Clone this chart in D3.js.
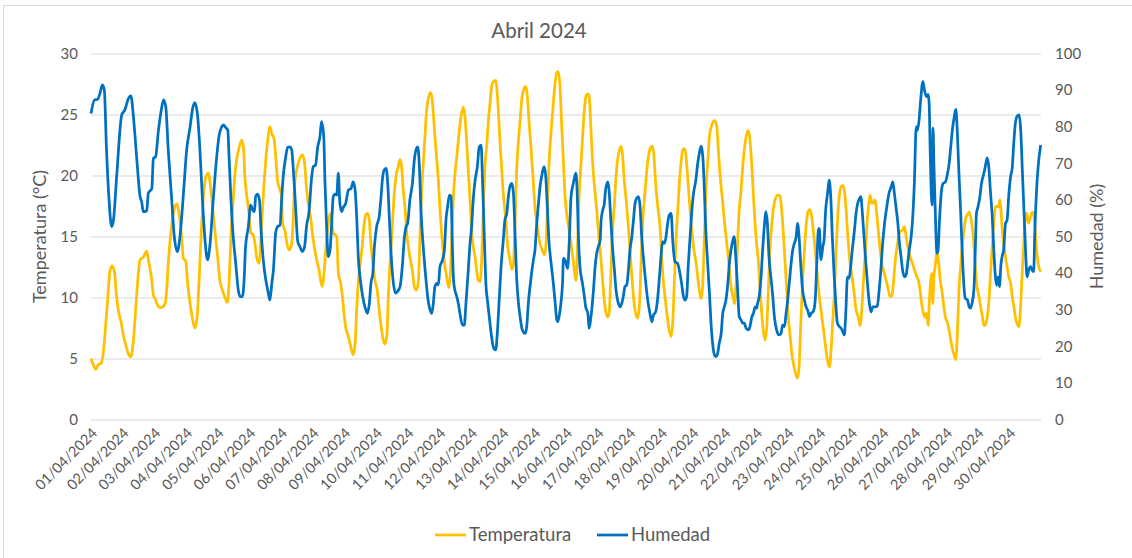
<!DOCTYPE html>
<html>
<head>
<meta charset="utf-8">
<script src="https://cdn.jsdelivr.net/npm/d3@7"></script>
<style>
  body { margin: 0; background: #fff; }
  svg { display: block; font-family: Lato, 'Open Sans', sans-serif; }
</style>
</head>
<body>
<svg id="chart" width="1132" height="558"></svg>
<script>
// [día desde 01/04 00:00, valor]
const temperatura = [
  [0.00,5.0],[0.07,4.5],[0.15,4.1],[0.23,4.5],[0.32,4.6],[0.39,5.5],[0.46,7.6],[0.53,10.0],[0.60,12.2],[0.67,12.6],
  [0.74,12.1],[0.81,10.0],[0.88,8.7],[0.95,8.0],[1.02,6.9],[1.09,6.2],[1.18,5.4],[1.26,5.15],[1.34,6.5],[1.41,9.0],
  [1.47,11.2],[1.55,13.1],[1.65,13.3],[1.76,13.8],[1.81,13.1],[1.92,11.4],[1.97,10.2],[2.04,9.8],[2.15,9.2],[2.23,9.2],
  [2.34,9.5],[2.39,10.6],[2.44,12.8],[2.53,15.5],[2.60,16.9],[2.71,17.7],[2.78,16.9],[2.86,15.0],[2.92,13.2],[2.99,13.0],
  [3.05,11.2],[3.13,9.5],[3.20,8.3],[3.28,7.5],[3.35,8.4],[3.41,11.2],[3.47,14.7],[3.55,18.3],[3.62,19.8],[3.71,20.2],
  [3.76,19.4],[3.83,17.7],[3.92,15.3],[4.00,13.3],[4.07,11.4],[4.15,10.6],[4.23,10.0],[4.31,9.6],[4.36,11.2],[4.42,15.0],
  [4.49,18.0],[4.55,20.2],[4.60,21.3],[4.67,22.2],[4.76,22.9],[4.82,22.1],[4.86,19.9],[4.92,18.3],[4.99,16.9],[5.05,15.3],
  [5.13,15.1],[5.18,14.4],[5.23,13.3],[5.31,12.8],[5.37,15.0],[5.44,18.3],[5.52,21.3],[5.58,22.9],[5.65,24.0],[5.71,23.4],
  [5.78,23.0],[5.84,21.3],[5.89,19.6],[5.97,18.8],[6.02,18.3],[6.05,16.1],[6.13,15.4],[6.19,14.4],[6.25,13.9],[6.32,14.2],
  [6.37,15.5],[6.42,18.8],[6.49,20.4],[6.58,21.3],[6.67,21.7],[6.74,21.1],[6.81,18.8],[6.88,17.4],[6.95,16.3],[6.99,15.3],
  [7.07,13.9],[7.15,12.8],[7.20,12.3],[7.25,11.4],[7.31,10.9],[7.36,12.0],[7.43,14.5],[7.49,16.0],[7.55,16.9],[7.60,16.3],
  [7.65,15.3],[7.76,15.0],[7.81,12.0],[7.88,11.2],[7.94,10.1],[8.00,8.4],[8.04,7.6],[8.13,6.8],[8.21,5.9],[8.28,5.3],
  [8.34,6.2],[8.39,9.0],[8.44,11.2],[8.52,13.1],[8.57,14.4],[8.63,16.1],[8.68,16.8],[8.74,16.9],[8.79,16.3],[8.84,14.4],
  [8.90,12.8],[8.97,11.4],[9.04,10.6],[9.11,8.7],[9.18,7.3],[9.23,6.5],[9.28,6.2],[9.34,6.8],[9.39,10.1],[9.44,12.8],
  [9.50,15.0],[9.57,18.3],[9.63,19.9],[9.71,20.8],[9.76,21.3],[9.81,20.7],[9.86,18.8],[9.92,17.2],[9.97,15.3],[10.02,14.2],
  [10.07,13.3],[10.15,12.2],[10.21,10.9],[10.28,10.6],[10.34,11.4],[10.39,15.0],[10.44,18.5],[10.50,21.3],[10.55,23.4],[10.60,25.4],
  [10.65,26.3],[10.71,26.8],[10.76,26.5],[10.81,25.1],[10.86,23.2],[10.92,21.3],[10.97,19.6],[11.02,17.2],[11.07,15.3],[11.13,13.6],
  [11.18,12.5],[11.23,11.7],[11.30,10.8],[11.35,12.0],[11.40,15.5],[11.45,18.6],[11.50,20.3],[11.55,21.5],[11.62,23.4],[11.69,24.9],
  [11.76,25.6],[11.81,24.8],[11.86,22.9],[11.92,20.2],[11.97,18.0],[12.02,15.5],[12.07,14.2],[12.13,13.3],[12.18,12.2],[12.23,11.4],
  [12.29,11.3],[12.34,13.3],[12.39,17.4],[12.44,20.7],[12.50,22.6],[12.55,24.5],[12.60,25.9],[12.65,27.3],[12.71,27.7],[12.78,27.8],
  [12.83,26.7],[12.89,24.0],[12.95,21.3],[13.02,18.5],[13.10,16.3],[13.16,14.2],[13.23,13.1],[13.29,12.3],[13.34,12.8],[13.39,16.1],
  [13.44,20.4],[13.50,22.9],[13.55,24.5],[13.60,26.2],[13.67,27.1],[13.73,27.3],[13.78,26.5],[13.83,24.5],[13.90,22.1],[13.97,19.4],
  [14.02,17.4],[14.11,15.5],[14.18,14.4],[14.25,13.9],[14.32,13.5],[14.37,14.4],[14.42,18.0],[14.47,21.3],[14.55,24.3],[14.60,25.9],
  [14.65,27.5],[14.72,28.5],[14.76,28.5],[14.81,27.3],[14.86,24.3],[14.92,21.0],[14.97,18.3],[15.02,16.9],[15.10,15.5],[15.16,14.4],
  [15.23,13.0],[15.29,11.7],[15.32,11.4],[15.36,13.9],[15.41,18.0],[15.48,21.3],[15.53,23.4],[15.58,25.4],[15.63,26.5],[15.69,26.7],
  [15.73,26.5],[15.78,24.3],[15.83,21.5],[15.90,19.1],[15.97,17.2],[16.02,15.5],[16.08,13.9],[16.13,12.3],[16.18,10.6],[16.23,9.3],
  [16.31,8.4],[16.36,8.7],[16.41,11.4],[16.46,15.0],[16.53,17.7],[16.58,19.9],[16.63,21.3],[16.69,22.1],[16.74,22.4],[16.79,21.5],
  [16.84,19.6],[16.90,18.0],[16.97,15.8],[17.02,13.9],[17.08,11.7],[17.13,10.1],[17.18,9.0],[17.26,8.3],[17.32,9.5],[17.37,12.8],
  [17.42,16.1],[17.50,18.8],[17.55,20.4],[17.60,21.5],[17.66,22.2],[17.73,22.4],[17.78,21.5],[17.83,19.4],[17.90,17.4],[17.97,15.8],
  [18.02,13.3],[18.08,11.2],[18.15,9.5],[18.21,8.2],[18.27,7.2],[18.32,6.8],[18.37,7.9],[18.42,11.2],[18.48,15.0],[18.53,17.2],
  [18.58,19.4],[18.63,21.0],[18.69,22.1],[18.74,22.2],[18.79,21.6],[18.84,19.9],[18.90,17.8],[18.95,16.1],[19.04,13.9],[19.11,12.8],
  [19.16,11.7],[19.21,10.6],[19.27,9.9],[19.32,11.2],[19.37,15.0],[19.42,18.8],[19.48,21.3],[19.53,23.2],[19.60,24.1],[19.69,24.5],
  [19.76,24.1],[19.81,22.1],[19.87,19.9],[19.94,18.0],[20.02,15.8],[20.10,13.9],[20.16,12.3],[20.21,10.9],[20.27,10.1],[20.32,9.5],
  [20.36,10.6],[20.41,13.9],[20.47,17.2],[20.53,18.8],[20.58,20.7],[20.63,22.1],[20.69,23.2],[20.76,23.7],[20.81,22.9],[20.87,20.7],
  [20.92,18.3],[20.97,16.1],[21.02,14.4],[21.08,12.8],[21.13,10.6],[21.18,8.7],[21.23,7.3],[21.29,6.5],[21.34,7.6],[21.39,10.6],
  [21.44,13.9],[21.52,16.6],[21.60,18.0],[21.69,18.4],[21.76,18.3],[21.81,17.2],[21.87,15.0],[21.92,12.8],[21.97,10.6],[22.02,8.4],
  [22.08,6.8],[22.13,5.4],[22.18,4.6],[22.25,3.8],[22.31,3.4],[22.36,4.3],[22.41,7.6],[22.47,11.2],[22.53,13.9],[22.58,15.8],
  [22.63,16.9],[22.69,17.2],[22.74,16.9],[22.81,15.5],[22.87,13.9],[22.94,11.7],[23.00,10.1],[23.08,8.4],[23.15,7.0],[23.21,5.7],
  [23.27,4.7],[23.32,4.3],[23.37,5.7],[23.42,7.9],[23.48,10.6],[23.53,13.9],[23.58,16.6],[23.63,18.3],[23.69,19.1],[23.74,19.2],
  [23.79,18.8],[23.84,17.4],[23.90,15.0],[23.95,13.3],[24.00,12.3],[24.06,11.2],[24.11,10.1],[24.16,9.0],[24.23,8.4],[24.29,7.7],
  [24.34,9.0],[24.39,11.2],[24.44,13.3],[24.50,15.8],[24.55,17.4],[24.60,18.4],[24.66,17.7],[24.71,17.8],[24.76,18.0],[24.81,16.9],
  [24.87,15.3],[24.92,13.9],[24.97,12.8],[25.02,12.3],[25.08,11.7],[25.13,11.2],[25.18,10.6],[25.23,10.1],[25.29,10.1],[25.34,11.2],
  [25.39,12.8],[25.44,13.9],[25.50,15.0],[25.55,15.4],[25.62,15.5],[25.69,15.8],[25.74,15.0],[25.79,14.2],[25.87,13.3],[25.94,12.8],
  [26.00,12.3],[26.08,11.7],[26.13,11.4],[26.18,10.6],[26.23,9.5],[26.29,8.7],[26.34,8.4],[26.38,8.7],[26.44,7.7],[26.47,9.5],
  [26.51,11.2],[26.55,12.0],[26.58,9.5],[26.62,11.7],[26.67,12.8],[26.72,13.8],[26.77,12.8],[26.82,11.4],[26.88,10.4],[26.93,9.3],
  [26.98,8.4],[27.05,7.9],[27.10,7.3],[27.15,6.5],[27.20,5.8],[27.26,5.3],[27.31,4.9],[27.36,7.1],[27.41,10.6],[27.47,12.8],
  [27.52,14.4],[27.57,15.5],[27.62,16.5],[27.68,16.8],[27.73,17.0],[27.78,16.6],[27.84,15.5],[27.89,13.9],[27.93,12.3],[27.98,10.9],
  [28.04,10.1],[28.09,9.3],[28.15,8.4],[28.20,7.7],[28.25,7.8],[28.30,8.4],[28.35,9.5],[28.40,11.7],[28.46,14.2],[28.51,16.1],
  [28.56,17.4],[28.61,17.5],[28.67,17.4],[28.70,18.0],[28.73,17.4],[28.77,15.8],[28.82,14.4],[28.88,13.3],[28.93,12.5],[28.98,11.7],
  [29.04,11.2],[29.09,10.1],[29.14,9.3],[29.19,8.4],[29.25,7.8],[29.30,7.6],[29.35,9.0],[29.40,11.7],[29.46,14.7],[29.51,16.9],
  [29.56,16.9],[29.59,16.1],[29.64,16.3],[29.70,16.9],[29.75,17.0],[29.80,16.1],[29.86,13.9],[29.91,12.8],[29.99,12.1]
]

const humedad = [
  [0.00,83.6],[0.11,87.3],[0.21,87.5],[0.28,89.0],[0.36,91.4],[0.42,90.0],[0.49,73.6],[0.57,60.0],[0.65,52.7],[0.71,54.5],
  [0.81,66.4],[0.97,83.2],[1.07,84.6],[1.18,87.7],[1.26,88.4],[1.34,82.7],[1.44,71.8],[1.55,60.9],[1.60,59.5],[1.65,56.8],
  [1.76,57.0],[1.81,61.8],[1.92,63.1],[1.97,71.3],[2.04,71.8],[2.13,79.0],[2.21,84.0],[2.29,87.3],[2.36,85.5],[2.44,73.6],
  [2.55,60.0],[2.63,50.0],[2.73,45.9],[2.81,50.0],[2.92,61.8],[3.02,73.6],[3.13,80.0],[3.21,85.0],[3.28,86.6],[3.37,82.7],
  [3.44,73.6],[3.52,60.0],[3.60,49.0],[3.68,43.6],[3.76,48.0],[3.86,60.0],[3.97,71.8],[4.04,77.3],[4.13,80.0],[4.18,80.5],
  [4.25,79.8],[4.32,79.0],[4.36,71.8],[4.42,60.0],[4.49,50.0],[4.57,42.7],[4.65,35.4],[4.71,33.6],[4.78,33.6],[4.84,39.0],
  [4.88,47.2],[4.97,52.7],[5.04,58.6],[5.11,57.2],[5.16,56.8],[5.20,60.9],[5.26,61.6],[5.32,60.0],[5.37,51.8],[5.44,43.6],
  [5.52,38.1],[5.58,35.4],[5.65,32.6],[5.71,37.2],[5.76,40.8],[5.83,50.9],[5.89,52.7],[5.97,53.1],[6.02,60.0],[6.07,66.4],
  [6.15,71.8],[6.21,74.4],[6.28,74.5],[6.34,73.6],[6.39,68.2],[6.46,58.1],[6.53,48.6],[6.60,47.2],[6.67,45.9],[6.74,47.0],
  [6.81,53.1],[6.88,56.3],[6.97,66.4],[7.02,69.1],[7.09,69.5],[7.16,74.5],[7.23,77.3],[7.28,81.4],[7.35,77.3],[7.39,64.5],
  [7.44,52.7],[7.49,44.5],[7.55,46.3],[7.60,53.6],[7.65,60.9],[7.71,61.6],[7.76,61.3],[7.81,67.3],[7.86,59.0],[7.92,56.8],
  [7.97,58.0],[8.04,59.0],[8.13,62.7],[8.21,63.1],[8.28,64.9],[8.34,62.7],[8.39,55.4],[8.44,44.5],[8.52,37.2],[8.58,33.6],
  [8.65,30.8],[8.73,29.0],[8.79,31.7],[8.84,37.2],[8.90,39.9],[8.95,47.2],[9.02,52.7],[9.10,55.4],[9.16,60.9],[9.20,65.4],
  [9.26,68.2],[9.32,68.6],[9.37,64.5],[9.42,55.4],[9.47,46.3],[9.55,37.2],[9.62,34.5],[9.68,35.0],[9.76,36.3],[9.83,41.8],
  [9.90,50.0],[9.95,52.7],[10.00,53.6],[10.07,60.0],[10.15,64.5],[10.21,70.9],[10.28,74.1],[10.32,74.5],[10.37,69.1],[10.42,57.2],
  [10.50,46.3],[10.57,39.0],[10.63,33.6],[10.71,29.9],[10.76,29.0],[10.81,31.7],[10.86,36.3],[10.92,37.2],[10.97,36.8],[11.02,41.8],
  [11.10,43.6],[11.16,46.3],[11.21,54.5],[11.26,58.1],[11.32,61.3],[11.37,61.0],[11.41,48.0],[11.44,39.5],[11.47,36.3],[11.55,33.6],
  [11.60,31.7],[11.65,29.0],[11.73,25.8],[11.79,25.8],[11.84,31.7],[11.90,39.0],[11.97,48.1],[12.02,52.7],[12.07,60.0],[12.13,65.4],
  [12.20,69.1],[12.26,74.5],[12.32,75.0],[12.36,66.4],[12.42,50.0],[12.47,37.2],[12.53,31.7],[12.60,26.3],[12.65,22.6],[12.72,19.4],
  [12.78,19.0],[12.83,23.5],[12.89,32.6],[12.95,41.8],[13.02,49.0],[13.07,54.5],[13.13,56.3],[13.18,60.9],[13.23,63.6],[13.29,64.5],
  [13.34,61.8],[13.39,50.9],[13.44,39.0],[13.50,31.7],[13.55,28.1],[13.62,24.5],[13.71,23.5],[13.76,25.4],[13.81,31.7],[13.90,39.0],
  [13.97,43.6],[14.02,46.3],[14.07,52.7],[14.13,59.0],[14.18,63.6],[14.25,67.3],[14.31,69.1],[14.36,66.4],[14.41,58.1],[14.46,49.0],
  [14.53,42.7],[14.60,37.2],[14.65,32.6],[14.71,27.2],[14.74,26.7],[14.79,28.5],[14.84,31.7],[14.89,37.2],[14.92,44.0],[14.97,43.6],
  [15.05,41.3],[15.10,48.1],[15.16,60.9],[15.23,64.5],[15.31,67.3],[15.35,62.7],[15.39,50.9],[15.44,41.8],[15.52,37.2],[15.58,33.6],
  [15.62,30.8],[15.69,29.0],[15.73,24.9],[15.79,28.1],[15.86,34.5],[15.92,41.8],[15.97,45.4],[16.02,47.2],[16.08,49.0],[16.11,54.5],
  [16.16,57.2],[16.21,59.0],[16.25,62.7],[16.32,64.9],[16.36,62.7],[16.41,55.4],[16.46,48.1],[16.53,40.8],[16.58,35.4],[16.63,32.6],
  [16.71,30.8],[16.76,31.7],[16.81,33.6],[16.86,36.3],[16.92,36.8],[16.97,40.8],[17.02,46.3],[17.08,50.0],[17.13,54.5],[17.18,59.0],
  [17.23,60.4],[17.29,60.9],[17.34,58.1],[17.39,50.0],[17.45,43.6],[17.52,37.2],[17.58,32.6],[17.65,29.0],[17.71,26.7],[17.76,28.5],
  [17.83,29.4],[17.90,33.6],[17.95,39.0],[18.00,44.5],[18.05,48.6],[18.11,48.1],[18.16,50.0],[18.21,53.6],[18.26,55.9],[18.32,56.3],
  [18.37,49.0],[18.44,43.1],[18.52,42.7],[18.58,40.8],[18.65,37.2],[18.71,33.6],[18.76,32.6],[18.81,33.6],[18.86,42.0],[18.92,50.0],
  [18.97,56.5],[19.02,61.3],[19.10,65.4],[19.16,70.0],[19.21,72.7],[19.27,74.7],[19.32,71.8],[19.37,62.7],[19.41,52.7],[19.48,41.8],
  [19.53,34.5],[19.58,26.3],[19.63,20.8],[19.69,17.6],[19.74,17.2],[19.79,18.1],[19.84,20.8],[19.90,23.5],[19.95,29.0],[20.00,30.8],
  [20.05,32.6],[20.11,37.2],[20.16,42.7],[20.21,46.3],[20.27,49.0],[20.31,50.0],[20.36,44.5],[20.41,37.2],[20.47,28.1],[20.53,27.2],
  [20.58,26.3],[20.63,26.3],[20.69,24.9],[20.76,24.5],[20.81,25.4],[20.87,28.1],[20.92,29.0],[20.97,30.8],[21.02,30.4],[21.05,31.7],
  [21.10,33.6],[21.16,39.0],[21.21,46.3],[21.27,53.6],[21.31,56.8],[21.36,53.6],[21.41,44.5],[21.48,38.1],[21.53,33.6],[21.58,28.1],
  [21.65,24.5],[21.73,23.1],[21.79,23.5],[21.84,25.8],[21.90,25.4],[21.95,29.0],[22.00,32.6],[22.05,37.2],[22.11,42.7],[22.16,46.3],
  [22.21,48.1],[22.27,50.0],[22.31,53.6],[22.36,50.0],[22.41,42.7],[22.47,35.4],[22.53,32.6],[22.58,30.8],[22.63,29.9],[22.69,28.1],
  [22.74,29.0],[22.81,29.5],[22.87,32.6],[22.92,42.7],[22.97,51.8],[23.00,52.2],[23.05,43.6],[23.11,47.2],[23.15,49.0],[23.20,57.2],
  [23.26,61.8],[23.31,65.4],[23.36,60.9],[23.41,50.0],[23.47,39.0],[23.52,31.7],[23.57,26.3],[23.63,25.4],[23.69,24.9],[23.74,24.0],
  [23.79,23.1],[23.83,28.1],[23.89,39.0],[23.94,38.6],[23.99,41.8],[24.04,46.3],[24.11,51.8],[24.16,56.3],[24.21,59.0],[24.27,60.4],
  [24.31,60.9],[24.36,56.3],[24.41,50.0],[24.47,42.7],[24.52,37.2],[24.58,31.7],[24.63,29.4],[24.69,30.8],[24.76,30.8],[24.83,31.0],
  [24.89,35.4],[24.95,41.8],[25.00,48.1],[25.06,53.6],[25.13,58.1],[25.20,61.8],[25.27,63.6],[25.32,64.9],[25.37,61.8],[25.42,58.1],
  [25.48,53.6],[25.53,48.1],[25.58,44.5],[25.63,40.8],[25.69,39.0],[25.74,39.5],[25.79,42.7],[25.84,46.3],[25.90,50.0],[25.95,55.4],
  [26.00,64.5],[26.06,80.0],[26.10,79.0],[26.15,81.8],[26.20,87.3],[26.27,92.3],[26.32,90.0],[26.38,88.2],[26.44,88.8],[26.47,85.9],
  [26.50,73.6],[26.54,60.9],[26.56,58.6],[26.59,79.6],[26.62,69.1],[26.67,54.5],[26.71,45.4],[26.75,46.3],[26.80,55.4],[26.86,62.7],
  [26.91,64.5],[26.98,64.9],[27.05,67.3],[27.10,70.0],[27.15,74.5],[27.20,79.0],[27.26,82.7],[27.31,84.7],[27.35,80.0],[27.40,69.1],
  [27.46,57.2],[27.51,46.3],[27.56,37.2],[27.61,33.1],[27.68,32.6],[27.73,30.8],[27.77,30.4],[27.82,31.7],[27.88,35.4],[27.91,41.8],
  [27.94,50.9],[27.96,56.3],[28.01,58.1],[28.07,60.9],[28.12,64.5],[28.17,66.4],[28.22,68.2],[28.26,70.0],[28.30,71.5],[28.35,69.1],
  [28.40,62.7],[28.46,55.4],[28.51,46.3],[28.56,39.0],[28.60,36.7],[28.65,39.0],[28.69,36.3],[28.73,41.8],[28.77,44.5],[28.82,46.3],
  [28.88,53.6],[28.93,54.5],[28.98,60.9],[29.04,66.4],[29.09,68.6],[29.14,75.5],[29.19,80.9],[29.25,82.9],[29.31,83.2],[29.36,79.0],
  [29.41,68.2],[29.47,55.4],[29.52,44.5],[29.56,39.0],[29.61,40.8],[29.67,41.8],[29.72,40.8],[29.77,40.4],[29.80,50.0],[29.86,62.7],
  [29.91,69.1],[29.99,75.0]
]

const fechas = [
  '01/04/2024','02/04/2024','03/04/2024','04/04/2024','05/04/2024','06/04/2024','07/04/2024','08/04/2024',
  '09/04/2024','10/04/2024','11/04/2024','12/04/2024','13/04/2024','14/04/2024','15/04/2024','16/04/2024',
  '17/04/2024','18/04/2024','19/04/2024','20/04/2024','21/04/2024','22/04/2024','23/04/2024','24/04/2024',
  '25/04/2024','26/04/2024','27/04/2024','28/04/2024','29/04/2024','30/04/2024'
]
const ticksTemp = [0, 5, 10, 15, 20, 25, 30]
const ticksHum = [0, 10, 20, 30, 40, 50, 60, 70, 80, 90, 100]

const plotL = 91
const plotR = 1041
const plotT = 53.5
const plotB = 419.5
const grey = '#595959'

let svg = d3.select('#chart')

svg.append('rect')
  .attr('x', 3.5).attr('y', 5.5)
  .attr('width', 1140).attr('height', 570)
  .attr('fill', '#fff')
  .attr('stroke', '#d9d9d9')

let x = d3.scaleLinear().domain([0, 30]).range([plotL, plotR])
let yT = d3.scaleLinear().domain([0, 30]).range([plotB, plotT])
let yH = d3.scaleLinear().domain([0, 100]).range([plotB, plotT])

// eje izquierdo + rejilla
let axL = svg.append('g')
  .attr('transform', 'translate(' + plotL + ',0)')
  .call(d3.axisLeft(yT).tickValues(ticksTemp).tickSize(-(plotR - plotL)).tickPadding(13))
axL.select('.domain').remove()
axL.selectAll('line').attr('stroke', '#d9d9d9').attr('stroke-width', 1)
axL.selectAll('text').attr('fill', grey).style('font-size', '15px').style('font-family', 'Lato')

// eje derecho
let axR = svg.append('g')
  .attr('transform', 'translate(' + plotR + ',0)')
  .call(d3.axisRight(yH).tickValues(ticksHum).tickSize(0).tickPadding(14))
axR.select('.domain').remove()
axR.selectAll('text').attr('fill', grey).style('font-size', '15px').style('font-family', 'Lato')

// eje x
let axX = svg.append('g')
  .attr('transform', 'translate(0,' + plotB + ')')
  .call(d3.axisBottom(x).tickValues(d3.range(30)).tickFormat(i => fechas[i]).tickSize(0))
axX.select('.domain').remove()
axX.selectAll('text')
  .attr('fill', grey)
  .attr('x', 0).attr('y', 0).attr('dy', '0.35em')
  .attr('text-anchor', 'end')
  .attr('transform', 'translate(3,11) rotate(-45)')
  .style('font-size', '14.5px').style('font-family', 'Lato')

let line = (ys) => d3.line()
  .x(d => x(d[0]))
  .y(d => ys(d[1]))
  .curve(d3.curveMonotoneX)

svg.append('path')
  .datum(temperatura)
  .attr('d', line(yT))
  .attr('fill', 'none')
  .attr('stroke', '#ffc000')
  .attr('stroke-width', 2.75)
  .attr('stroke-linejoin', 'round')

svg.append('path')
  .datum(humedad)
  .attr('d', line(yH))
  .attr('fill', 'none')
  .attr('stroke', '#0070c0')
  .attr('stroke-width', 2.75)
  .attr('stroke-linejoin', 'round')

// titulos
svg.append('text')
  .text('Abril 2024')
  .attr('x', 539).attr('y', 38)
  .attr('text-anchor', 'middle')
  .attr('fill', grey)
  .style('font-size', '20.5px')

svg.append('text')
  .text('Temperatura (°C)')
  .attr('transform', 'translate(46,' + ((plotT + plotB) / 2) + ') rotate(-90)')
  .attr('text-anchor', 'middle')
  .attr('fill', grey)
  .style('font-size', '18px')

svg.append('text')
  .text('Humedad (%)')
  .attr('transform', 'translate(1103,' + ((plotT + plotB) / 2) + ') rotate(-90)')
  .attr('text-anchor', 'middle')
  .attr('fill', grey)
  .style('font-size', '18px')

// leyenda
let legend = svg.append('g').attr('transform', 'translate(435,535)')
let items = [['Temperatura', '#ffc000', 0], ['Humedad', '#0070c0', 162]]
items.forEach(it => {
  legend.append('line')
    .attr('x1', it[2]).attr('x2', it[2] + 31)
    .attr('y1', 0).attr('y2', 0)
    .attr('stroke', it[1]).attr('stroke-width', 2.75)
  legend.append('text')
    .text(it[0])
    .attr('x', it[2] + 34).attr('y', 0).attr('dy', '0.35em')
    .attr('fill', grey)
    .style('font-size', '18.5px')
})
</script>
</body>
</html>
